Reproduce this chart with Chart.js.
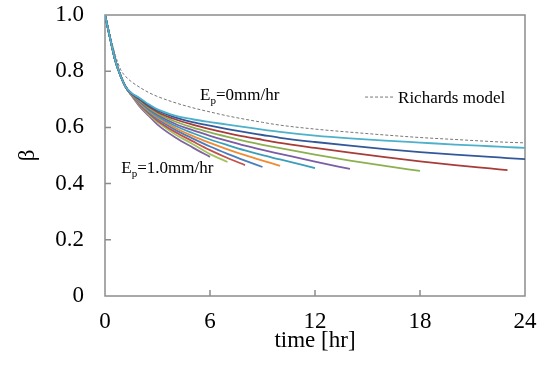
<!DOCTYPE html>
<html>
<head>
<meta charset="utf-8">
<script src="https://cdn.jsdelivr.net/npm/chart.js@4/dist/chart.umd.min.js"></script>
<style>
  html, body { margin: 0; padding: 0; background: #fff; }
  #wrap { width: 544px; height: 371px; }
</style>
</head>
<body>
<div id="wrap"><canvas id="betaChart" width="544" height="371"></canvas></div>
<script>
// Time grid (hr) shared by all curves
const timeGrid = [0, 0.3, 0.6, 0.9, 1.2, 1.5, 2, 2.5, 3, 4, 5, 6, 7, 8, 9, 10, 12, 14, 16, 18, 20, 22, 23, 24];

// beta values, one array per evaporation rate (curves stop where they end in the figure)
const betaEp00 = [1.0, 0.915, 0.835, 0.782, 0.742, 0.723, 0.704, 0.682, 0.664, 0.642, 0.629, 0.619, 0.610, 0.601, 0.592, 0.584, 0.571, 0.561, 0.553, 0.546, 0.539, 0.533, 0.530, 0.527];
const betaEp01 = [1.0, 0.915, 0.835, 0.782, 0.742, 0.722, 0.701, 0.678, 0.660, 0.636, 0.619, 0.606, 0.594, 0.583, 0.573, 0.563, 0.548, 0.535, 0.523, 0.512, 0.503, 0.495, 0.491, 0.487];
const betaEp02 = [1.0, 0.915, 0.835, 0.782, 0.742, 0.721, 0.698, 0.674, 0.655, 0.629, 0.610, 0.594, 0.580, 0.567, 0.556, 0.545, 0.527, 0.510, 0.494, 0.479, 0.466, 0.454, 0.448];
const betaEp03 = [1.0, 0.915, 0.835, 0.782, 0.742, 0.720, 0.695, 0.670, 0.650, 0.621, 0.600, 0.582, 0.566, 0.551, 0.538, 0.526, 0.503, 0.482, 0.463, 0.445];
const betaEp04 = [1.0, 0.915, 0.835, 0.782, 0.742, 0.719, 0.692, 0.666, 0.645, 0.613, 0.590, 0.570, 0.552, 0.535, 0.520, 0.506, 0.478, 0.452];
const betaEp05 = [1.0, 0.915, 0.835, 0.782, 0.742, 0.719, 0.689, 0.662, 0.640, 0.606, 0.580, 0.557, 0.537, 0.518, 0.501, 0.486, 0.455];
const betaEp06 = [1.0, 0.915, 0.835, 0.782, 0.742, 0.718, 0.686, 0.658, 0.635, 0.599, 0.570, 0.545, 0.522, 0.501, 0.482, 0.463];
const betaEp07 = [1.0, 0.915, 0.835, 0.782, 0.742, 0.717, 0.683, 0.654, 0.630, 0.592, 0.561, 0.532, 0.506, 0.482, 0.459];
const betaEp08 = [1.0, 0.915, 0.835, 0.782, 0.742, 0.717, 0.680, 0.650, 0.624, 0.584, 0.551, 0.519, 0.491, 0.466];
const betaEp09 = [1.0, 0.915, 0.835, 0.782, 0.742, 0.716, 0.677, 0.646, 0.619, 0.576, 0.541, 0.505, 0.477];
const betaEp10 = [1.0, 0.915, 0.835, 0.782, 0.742, 0.715, 0.673, 0.641, 0.610, 0.565, 0.529, 0.495];

// Richards model (dashed)
const betaRichards = [1.0, 0.925, 0.855, 0.805, 0.780, 0.763, 0.742, 0.724, 0.710, 0.688, 0.670, 0.655, 0.641, 0.629, 0.618, 0.608, 0.594, 0.583, 0.573, 0.564, 0.557, 0.550, 0.547, 0.545];

const seriesList = [betaEp00, betaEp01, betaEp02, betaEp03, betaEp04, betaEp05, betaEp06, betaEp07, betaEp08, betaEp09, betaEp10];
const seriesColors = ['#4FB0CB', '#33589A', '#A83C38', '#8CB050', '#7B5CA5', '#3B9DBA', '#F08A33', '#4A7EBE', '#C0504D', '#A2C35C', '#8064A2'];

const xTicks = [0, 6, 12, 18, 24];
const yTicks = [0, 0.2, 0.4, 0.6, 0.8, 1.0];

const SERIF = "'Liberation Serif', 'Times New Roman', serif";

function toPoints(values) {
    return values.map((v, i) => ({ x: timeGrid[i], y: v }));
}

// Frame, inward ticks and text labels drawn on the canvas
const extrasPlugin = {
    id: 'extras',
    beforeDatasetsDraw(chart) {
        const ctx = chart.ctx;
        const xs = chart.scales.x, ys = chart.scales.y;
        const a = chart.chartArea;
        ctx.save();
        ctx.strokeStyle = '#8c8c8c';
        ctx.lineWidth = 1.5;
        ctx.beginPath();
        xTicks.slice(1, -1).forEach(t => {
            const px = xs.getPixelForValue(t);
            ctx.moveTo(px, a.bottom);
            ctx.lineTo(px, a.bottom - 6);
        });
        yTicks.slice(1, -1).forEach(t => {
            const py = ys.getPixelForValue(t);
            ctx.moveTo(a.left, py);
            ctx.lineTo(a.left + 6, py);
        });
        ctx.stroke();
        ctx.strokeRect(a.left, a.top, a.right - a.left, a.bottom - a.top);
        ctx.restore();
    },
    afterDatasetsDraw(chart) {
        const ctx = chart.ctx;
        const xs = chart.scales.x, ys = chart.scales.y;
        ctx.save();
        ctx.fillStyle = '#000';
        ctx.textBaseline = 'alphabetic';

        function drawEp(x, y, rest) {
            ctx.font = '17px ' + SERIF;
            ctx.fillText('E', x, y);
            let w = ctx.measureText('E').width;
            ctx.font = '11px ' + SERIF;
            ctx.fillText('p', x + w, y + 4);
            w += ctx.measureText('p').width;
            ctx.font = '17px ' + SERIF;
            ctx.fillText(rest, x + w, y);
        }
        drawEp(xs.getPixelForValue(5.43), ys.getPixelForValue(0.697), '=0mm/hr');
        drawEp(xs.getPixelForValue(0.93), ys.getPixelForValue(0.438), '=1.0mm/hr');

        // legend entry for the dashed Richards curve
        const lx = xs.getPixelForValue(14.86);
        const ly = ys.getPixelForValue(0.708);
        ctx.strokeStyle = '#777';
        ctx.lineWidth = 1;
        ctx.setLineDash([3, 2]);
        ctx.beginPath();
        ctx.moveTo(lx, ly);
        ctx.lineTo(lx + 28, ly);
        ctx.stroke();
        ctx.setLineDash([]);
        ctx.font = '17px ' + SERIF;
        ctx.fillText('Richards model', lx + 33, ly + 6);
        ctx.restore();
    }
};

const datasets = seriesList.map((vals, i) => ({
    data: toPoints(vals),
    borderColor: seriesColors[i],
    borderWidth: 1.8,
    pointRadius: 0,
    fill: false,
    cubicInterpolationMode: 'monotone'
}));

datasets.push({
    data: toPoints(betaRichards),
    borderColor: '#777',
    borderWidth: 1,
    borderDash: [3, 2],
    pointRadius: 0,
    fill: false,
    cubicInterpolationMode: 'monotone'
});

new Chart(document.getElementById('betaChart'), {
    type: 'line',
    data: { datasets: datasets },
    options: {
        responsive: false,
        animation: false,
        layout: { padding: { top: 15, right: 19, left: 0, bottom: 0 } },
        plugins: {
            legend: { display: false },
            tooltip: { enabled: false }
        },
        scales: {
            x: {
                type: 'linear',
                min: 0,
                max: 24,
                afterFit: s => { s.height = 75; s.paddingLeft = 0; s.paddingRight = 0; },
                afterBuildTicks: s => { s.ticks = xTicks.map(v => ({ value: v })); },
                grid: { display: false, drawTicks: false },
                border: { display: false },
                ticks: {
                    padding: 12,
                    color: '#000',
                    font: { family: SERIF, size: 23 }
                },
                title: {
                    display: true,
                    text: 'time [hr]',
                    color: '#000',
                    font: { family: SERIF, size: 23 },
                    padding: { top: 0, bottom: 16 }
                }
            },
            y: {
                min: 0,
                max: 1,
                afterFit: s => { s.width = 105; s.paddingTop = 0; s.paddingBottom = 0; },
                afterBuildTicks: s => { s.ticks = yTicks.map(v => ({ value: v })); },
                grid: { display: false, drawTicks: false },
                border: { display: false },
                ticks: {
                    padding: 21,
                    color: '#000',
                    font: { family: SERIF, size: 23 },
                    callback: v => (v === 0 ? '0' : v.toFixed(1))
                },
                title: {
                    display: true,
                    text: 'β',
                    color: '#000',
                    font: { family: SERIF, size: 23 },
                    padding: { top: 14, bottom: 0 }
                }
            }
        }
    },
    plugins: [extrasPlugin]
});
</script>
</body>
</html>
